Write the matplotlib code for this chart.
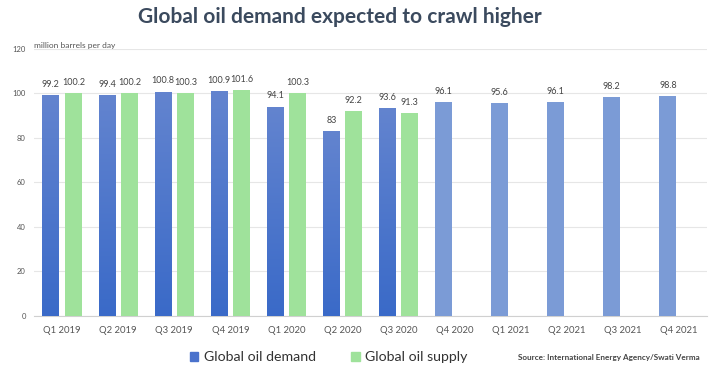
import matplotlib
matplotlib.use("Agg")
import matplotlib.pyplot as plt
import numpy as np
from matplotlib.patches import Rectangle

quarters = ["Q1 2019", "Q2 2019", "Q3 2019", "Q4 2019", "Q1 2020", "Q2 2020", "Q3 2020",
            "Q4 2020", "Q1 2021", "Q2 2021", "Q3 2021", "Q4 2021"]
demand = [99.2, 99.4, 100.8, 100.9, 94.1, 83, 93.6, 96.1, 95.6, 96.1, 98.2, 98.8]
supply = [100.2, 100.2, 100.3, 101.6, 100.3, 92.2, 91.3]
n_actual = 7  # demand bars after this are forecasts

plt.rcParams['font.family'] = ['Lato', 'DejaVu Sans']

fig = plt.figure(figsize=(7.1, 3.76), dpi=100)
ax = fig.add_axes([0.048, 0.1596, 0.948, 0.7101])

x = np.arange(len(quarters))
w = 0.3
off = 0.2

blue_top = np.array([0x63, 0x84, 0xcf]) / 255
blue_bot = np.array([0x3a, 0x6a, 0xc8]) / 255
grad = np.linspace(0, 1, 256)[:, None, None]
grad_img = blue_bot + (blue_top - blue_bot) * grad

dem_colors = ["#4a72cc"] * n_actual + ["#7b9bd6"] * (len(demand) - n_actual)
dbars = ax.bar(x - off, demand, w, color=dem_colors, zorder=3)
sbars = ax.bar(x[:n_actual] + off, supply, w, color="#9fe29b", zorder=3)

# gradient fill for actual demand bars
for b in list(dbars)[:n_actual]:
    bx, by = b.get_x(), b.get_y()
    bw, bh = b.get_width(), b.get_height()
    im = ax.imshow(grad_img, extent=[bx, bx + bw, by, by + bh], origin="lower",
                   aspect="auto", zorder=4)
    im.set_clip_path(b)

for b, v in zip(dbars, demand):
    ax.text(b.get_x() + b.get_width() / 2, v + 2.8, f"{v:g}", ha="center", va="bottom",
            fontsize=6.5, color="#444444", zorder=5)
for b, v in zip(sbars, supply):
    ax.text(b.get_x() + b.get_width() / 2, v + 2.8, f"{v:g}", ha="center", va="bottom",
            fontsize=6.5, color="#444444", zorder=5)

ax.set_xlim(-0.5, len(quarters) - 0.5)
ax.set_ylim(0, 120)
ax.set_yticks(range(0, 121, 20))
ax.set_xticks(x)
ax.set_xticklabels(quarters, fontsize=6.8, color="#555555")
ax.tick_params(axis="y", labelsize=5.5, labelcolor="#555555", length=0, pad=6)
ax.tick_params(axis="x", length=0, pad=7)
ax.grid(axis="y", color="#e6e6e6", linewidth=0.8, zorder=0)
for s in ["top", "right", "left"]:
    ax.spines[s].set_visible(False)
ax.spines["bottom"].set_color("#d0d0d0")
ax.set_axisbelow(True)

ax.text(0.0, 120, "million barrels per day", fontsize=6, color="#555555",
        transform=ax.get_yaxis_transform(), va="bottom", ha="left")

fig.text(0.478, 0.955, "Global oil demand expected to crawl higher", ha="center", va="center",
         fontsize=15, fontweight="bold", color="#3b4a5e")

# legend
leg_handles = [Rectangle((0, 0), 1, 1, color="#4a72cc"), Rectangle((0, 0), 1, 1, color="#9fe29b")]
fig.legend(leg_handles, ["Global oil demand", "Global oil supply"], loc="center",
           bbox_to_anchor=(0.463, 0.05), ncol=2, frameon=False, fontsize=10.2,
           handlelength=0.6, handleheight=0.6, handletextpad=0.4, columnspacing=2.5,
           labelcolor="#333333")

fig.text(0.985, 0.05, "Source: International Energy Agency/Swati Verma", ha="right",
         va="center", fontsize=5.9, fontweight="bold", color="#444444")

fig.savefig("out.png", dpi=100)
